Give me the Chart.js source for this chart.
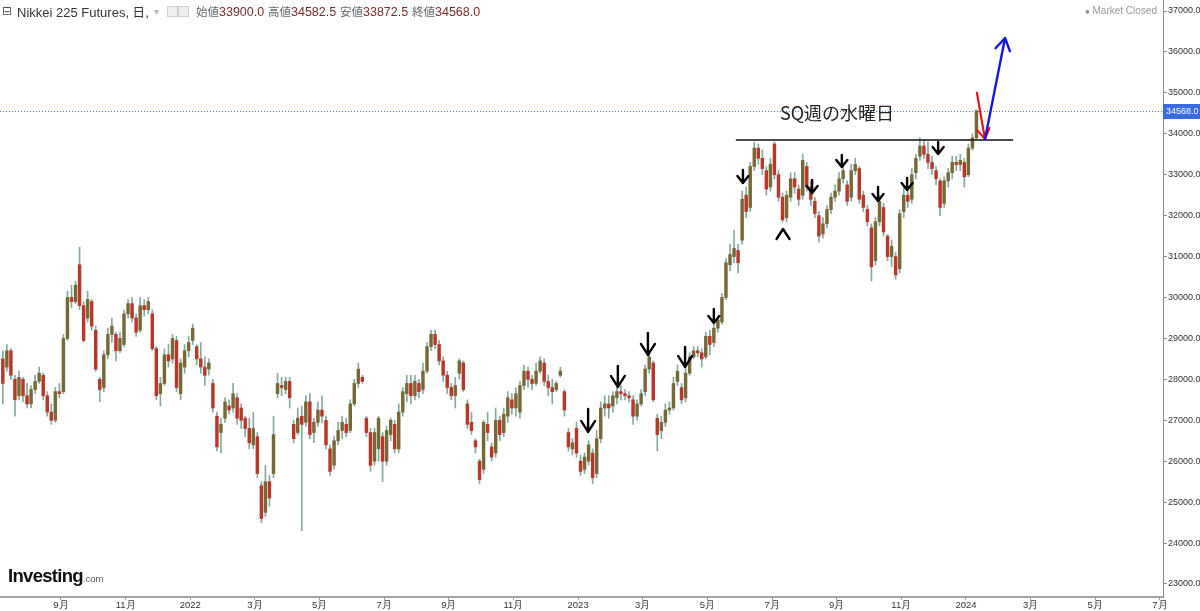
<!DOCTYPE html>
<html><head><meta charset="utf-8">
<script src="https://cdn.jsdelivr.net/npm/chart.js@4.4.1/dist/chart.umd.min.js"></script>
<style>
html,body{margin:0;padding:0;background:#fff;}
#wrap{position:relative;width:1200px;height:611px;overflow:hidden;background:#fff;}
#c{position:absolute;left:0;top:0;}
.t{position:absolute;white-space:nowrap;font-family:"Liberation Sans",Arial,sans-serif;}
.hd{top:4px;font-size:13px;color:#333;line-height:15px;}
.lb{color:#666;font-family:"Noto Sans CJK JP",sans-serif;font-size:11.5px;}
.v{color:#7a2c2c;font-size:12.5px;}
.ic{position:absolute;top:6px;width:9px;height:9px;border:1px solid #cfcfcf;background:#eee;}
</style></head>
<body><div id="wrap">
<canvas id="c" width="1200" height="611"></canvas>
<div class="t hd" style="left:2px;font-family:'DejaVu Sans';font-size:12px;color:#555;">⊟</div>
<div class="t hd" style="left:17px;">Nikkei 225 Futures, <span style="font-family:'Noto Sans CJK JP';font-size:12.5px;">日</span>,</div>
<div class="t hd" style="left:154px;color:#bbb;font-size:10px;">▾</div>
<div class="ic" style="left:167px;"></div>
<div class="ic" style="left:178px;"></div>
<div class="t hd" style="left:196px;"><span class="lb">始値</span><span class="v">33900.0</span></div>
<div class="t hd" style="left:268px;"><span class="lb">高値</span><span class="v">34582.5</span></div>
<div class="t hd" style="left:340px;"><span class="lb">安値</span><span class="v">33872.5</span></div>
<div class="t hd" style="left:412px;"><span class="lb">終値</span><span class="v">34568.0</span></div>
<div class="t" style="right:43px;top:5px;font-size:10px;color:#999;line-height:12px;"><span style="font-size:8px;color:#888;">●</span> Market Closed</div>
<div class="t" style="left:8px;top:566px;line-height:20px;"><span style="font-weight:bold;font-size:18.5px;color:#111;letter-spacing:-0.7px;">Investing</span><span style="font-size:9.5px;color:#555;">.com</span></div>
</div>
<script>
// ---- data (Nikkei 225 futures, daily candles sampled, yen) ----
const openP = [28500,28300,28700,28000,27600,28000,27600,27400,27750,27950,28100,27600,27200,27000,27700,27700,29000,30000,29900,30800,
29800,29500,29900,29200,28000,27800,28600,29100,29100,28700,28850,29600,29850,29500,29200,29800,29700,29600,28750,27650,
27900,28600,28500,28950,27650,28300,28700,28950,28800,28500,28300,28250,27900,27100,26700,27050,27350,27300,27550,27300,
27050,26800,26400,26600,25400,24750,25500,25700,27650,27850,27750,27950,26900,26700,27100,26950,27450,26700,26950,27250,
27000,26300,25900,26500,26750,26900,26750,27400,27900,28050,27050,26700,26000,26300,26600,26000,26650,26900,26300,27200,
27650,27900,27600,27900,27750,28200,28800,29100,28850,28450,28100,27800,27600,28150,28400,27400,26950,26500,26000,25800,
26900,26350,26200,27000,26700,27100,27500,27300,27200,27850,28200,28000,27900,28200,28400,27950,27800,27750,28100,27700,
26700,26300,26800,26000,25800,26000,26200,25700,26550,27300,27400,27350,27550,27700,27650,27600,27500,27100,27400,27700,
28250,28400,27050,26750,26950,27250,27300,27950,27800,27550,28150,28550,28700,28650,28550,29050,28900,29250,29400,30000,
30800,31000,31150,31400,32500,32200,33200,33650,33400,33100,32700,33750,33000,32450,31950,32450,32900,32650,32500,33200,
32700,32350,32000,31550,31800,32150,32450,32600,32900,32750,32450,33100,33150,32500,32150,31700,30900,31850,32200,31500,
31000,31000,30700,32100,32500,32400,33050,33450,33700,33500,33300,33100,32850,32300,32850,33050,33300,33250,33300,33000,
33650,33900];
const highP = [28700,28850,28750,28100,28200,28050,27900,27850,28100,28300,28150,27700,27400,27800,27900,29100,30150,30300,30400,31230,
29900,30150,29950,29300,28050,28700,29250,29500,29150,29150,29700,29950,30000,29600,30000,29950,30000,29700,28800,28050,
28750,28850,29100,29050,28500,28850,29050,29350,28850,28900,28550,28500,28000,27200,27050,27550,27500,27900,27650,27400,
27100,27050,27200,26700,25500,25900,25650,27100,28150,28050,28050,28050,27000,27300,27350,27600,27650,27050,27450,27600,
27100,26400,26600,26950,27100,27050,27500,28000,28400,28100,27100,26800,26800,27100,26700,26850,27050,27000,27400,27800,
28100,28100,28100,28000,28400,28900,29200,29200,28950,28550,28200,27900,28050,28500,28450,27500,27200,26550,26050,27000,
27200,26450,27300,27100,27300,27700,27650,27800,27950,28350,28300,28100,28400,28550,28500,28100,28000,27950,28300,27750,
26800,26550,26950,26150,26200,26500,26300,26750,27450,27600,27600,27700,27850,27850,27750,27700,27600,27500,27750,28350,
28650,28450,27150,27100,27400,27450,28050,28350,27900,28300,28650,28800,28800,28750,29150,29200,29350,29550,30100,30950,
31300,31650,31300,32600,32700,33300,33800,33750,33600,33200,33400,33800,33100,32550,32600,33050,33050,32750,33500,33300,
32850,32450,32100,31950,32250,32550,32750,33050,33200,32850,33250,33400,33200,32600,32250,31800,31950,32500,32300,31550,
31400,31100,32150,32700,32700,33150,33500,33900,33850,33800,33450,33200,32900,32950,33150,33450,33450,33500,33400,33750,
34000,34582.5];
const lowP = [27400,28200,28000,27100,27500,27450,27300,27300,27650,27900,27500,27100,26900,26950,27550,27650,28950,29750,29850,29700,
28900,29400,29200,28200,27450,27700,28500,28900,28450,28650,28800,29500,29400,29050,29150,29550,29600,28700,27500,27350,
27850,28300,28400,27700,27500,28150,28550,28850,28350,28150,27850,28100,27200,26250,26200,26950,27150,27200,26900,26800,
26600,26300,26300,25600,24500,24650,24900,25600,27550,27600,27650,27300,26450,26650,24300,26850,26550,26450,26850,26950,
26300,25650,25800,26400,26550,26600,26700,27350,27800,27900,26600,25750,25900,26000,25500,25900,26500,26200,26200,27100,
27450,27400,27500,27550,27650,28150,28700,28750,28350,27950,27650,27500,27300,28000,27700,26800,26650,26200,25450,25700,
26500,26000,26100,26500,26600,26950,27150,27100,27050,27750,27800,27750,27850,28150,27850,27600,27400,27700,28050,27100,
26250,26150,26100,25650,25700,25900,25450,25600,26450,27100,27050,27200,27400,27500,27500,27450,26900,27000,27350,27600,
28150,27450,26250,26550,26850,27150,27250,27850,27400,27450,28100,28500,28550,28300,28500,28600,28800,29150,29350,29950,
30650,30850,30600,31300,31950,32100,33100,33250,33000,32500,32600,32900,32350,31850,31850,32350,32550,32250,32400,32600,
32250,31950,31350,31450,31700,32050,32350,32500,32800,32250,32350,33000,32300,32100,31750,30400,30800,31750,31500,30900,
30750,30450,30600,31950,32200,32300,32900,33350,33400,33150,33000,32750,32000,32200,32700,32900,33100,33100,32700,32950,
33600,33872.5];
const closeP = [27900,28700,28100,27500,28050,27600,27400,27750,27950,28150,27600,27200,27000,27700,27650,29000,30000,29900,30300,29800,
28950,29950,29300,28250,27750,28600,29100,29300,28700,29000,29600,29850,29500,29150,29800,29700,29900,28750,27600,27900,
28600,28450,29000,27800,28400,28700,28900,29250,28500,28300,28100,28400,27300,26350,26900,27450,27250,27650,27050,27000,
26800,26450,26800,25700,24600,25500,25100,26650,27900,27800,27950,27550,26550,27050,26900,27450,26650,26950,27250,27100,
26400,25750,26500,26750,26950,26700,27400,27900,28250,27950,26700,25900,26700,27050,26000,26750,27000,26300,27200,27700,
27900,27600,27950,27700,28200,28800,29100,28850,28450,28100,27800,27600,27850,28450,27750,26900,26750,26350,25550,26950,
26700,26100,27000,26650,27150,27550,27300,27650,27850,28200,28000,27900,28200,28450,27950,27800,27700,27900,28200,27250,
26350,26450,26200,25750,26100,26400,25600,26550,27300,27400,27300,27600,27700,27650,27600,27550,27100,27400,27650,28250,
28550,27500,26650,26950,27250,27300,27900,28200,27500,28150,28550,28700,28650,28500,29050,28850,29250,29450,30000,30850,
31050,31200,30850,32400,32100,33200,33650,33400,33150,32650,33250,33000,32450,31900,32500,32900,32700,32400,33350,32700,
32400,32050,31500,31800,32150,32450,32600,32900,33100,32350,33100,33250,32400,32200,31850,30750,31850,32350,31600,31000,
31250,30550,32050,32500,32350,33000,33400,33700,33500,33300,33150,32900,32200,32850,33050,33300,33250,33350,32950,33650,
33900,34568];
const lastClose = 34568.0;
// x axis: months counted from Sep 2021 (0) ; tick labels
const xTickMonths = [0,2,4,6,8,10,12,14,16,18,20,22,24,26,28,30,32,34];
const xTickLabels = ['9月','11月','2022','3月','5月','7月','9月','11月','2023','3月','5月','7月','9月','11月','2024','3月','5月','7月'];
const yTickValues = [23000,24000,25000,26000,27000,28000,29000,30000,31000,32000,33000,34000,35000,36000,37000];
// bars are sampled every 1/8 month starting this month offset
const firstBarMonth = -1.8, barStepMonths = 0.125;
// annotations (month offset, price)
const downArrowMonth = [16.31,17.23,18.16,19.31,20.20,21.10,23.24,24.16,25.28,26.18,27.14];
const downArrowPrice = [26715,27814,28596,28303,29378,32798,32554,33189,32358,32627,33507];
const upArrowMonth = [22.34];
const upArrowPrice = [31674];
const resistPrice = 33850, resistFrom = 20.88, resistTo = 29.46;
const noteText = 'SQ週の水曜日', noteMonth = 24.01, notePrice = 34510;
const redArrow = {from:[28.34,35000], to:[28.59,33870]};
const blueArrow = {from:[28.59,33870], to:[29.21,36340]};

// ---- build datasets ----
const wickData = [], bodyData = [], bodyColors = [];
for (let i = 0; i < closeP.length; i++) {
  const m = firstBarMonth + barStepMonths * i;
  wickData.push({x: m, y: [lowP[i], highP[i]]});
  bodyData.push({x: m, y: [openP[i], closeP[i]]});
  bodyColors.push(closeP[i] >= openP[i] ? '#766937' : '#b7372b');
}

const arrowLens = [23,21,22,20,14,13,13,12,14,12,12];

const annot = {
  id: 'annot',
  afterDatasetsDraw(chart) {
    const {ctx, chartArea: ca, scales: {x, y}} = chart;
    ctx.save();
    // last price dotted line
    const ly = y.getPixelForValue(lastClose);
    ctx.strokeStyle = '#4e78d6'; ctx.lineWidth = 1; ctx.setLineDash([1, 2]);
    ctx.beginPath(); ctx.moveTo(ca.left, Math.round(ly) + 0.5); ctx.lineTo(ca.right, Math.round(ly) + 0.5); ctx.stroke();
    ctx.setLineDash([]);
    // resistance line
    const ry = y.getPixelForValue(resistPrice);
    ctx.strokeStyle = '#111'; ctx.lineWidth = 1.6;
    ctx.beginPath(); ctx.moveTo(x.getPixelForValue(resistFrom), ry); ctx.lineTo(x.getPixelForValue(resistTo), ry); ctx.stroke();
    // note text
    ctx.fillStyle = '#222'; ctx.font = '18px "Noto Sans CJK JP", sans-serif';
    ctx.textAlign = 'center'; ctx.textBaseline = 'middle';
    ctx.fillText(noteText, x.getPixelForValue(noteMonth), y.getPixelForValue(notePrice));
    // down arrows
    ctx.strokeStyle = '#000'; ctx.lineWidth = 2.4; ctx.lineCap = 'round'; ctx.lineJoin = 'round';
    downArrowMonth.forEach((m, k) => {
      const tx = x.getPixelForValue(m), ty = y.getPixelForValue(downArrowPrice[k]);
      const len = arrowLens[k], big = len > 18;
      const hw = big ? 7 : 5.5, hh = big ? 11 : 7;
      ctx.beginPath();
      ctx.moveTo(tx, ty - len); ctx.lineTo(tx, ty);
      ctx.moveTo(tx - hw, ty - hh); ctx.lineTo(tx, ty); ctx.lineTo(tx + hw, ty - hh);
      ctx.stroke();
    });
    upArrowMonth.forEach((m, k) => {
      const tx = x.getPixelForValue(m), ty = y.getPixelForValue(upArrowPrice[k]);
      ctx.beginPath();
      ctx.moveTo(tx - 6.5, ty + 10); ctx.lineTo(tx, ty); ctx.lineTo(tx + 6.5, ty + 10);
      ctx.stroke();
    });
    // colored arrows
    const drawArrow = (a, color, w, head) => {
      const x1 = x.getPixelForValue(a.from[0]), y1 = y.getPixelForValue(a.from[1]);
      const x2 = x.getPixelForValue(a.to[0]), y2 = y.getPixelForValue(a.to[1]);
      const ang = Math.atan2(y2 - y1, x2 - x1);
      ctx.strokeStyle = color; ctx.lineWidth = w;
      ctx.beginPath(); ctx.moveTo(x1, y1); ctx.lineTo(x2, y2);
      ctx.moveTo(x2 - head * Math.cos(ang - 0.55), y2 - head * Math.sin(ang - 0.55));
      ctx.lineTo(x2, y2);
      ctx.lineTo(x2 - head * Math.cos(ang + 0.55), y2 - head * Math.sin(ang + 0.55));
      ctx.stroke();
    };
    drawArrow(redArrow, '#e3141b', 2.2, 12);
    drawArrow(blueArrow, '#1414dc', 2.4, 14);
    ctx.restore();
  },
  afterDraw(chart) {
    const {ctx, chartArea: ca, scales: {y}} = chart;
    const ly = Math.round(y.getPixelForValue(lastClose));
    ctx.save();
    ctx.fillStyle = '#3b6be3';
    ctx.fillRect(ca.right, ly - 7, chart.width - ca.right, 15);
    ctx.fillStyle = '#fff'; ctx.font = '9px "Liberation Sans", Arial, sans-serif';
    ctx.textAlign = 'left'; ctx.textBaseline = 'middle';
    ctx.fillText(lastClose.toFixed(1), ca.right + 3, ly + 1);
    ctx.restore();
  }
};

const tickFont = {family: '"Liberation Sans", Arial, sans-serif', size: 9};
const xFont = {family: '"Liberation Sans", Arial, sans-serif', size: 9.5};
new Chart(document.getElementById('c'), {
  type: 'bar',
  data: {datasets: [
    {label: 'body', data: bodyData, backgroundColor: bodyColors, borderWidth: 0, barThickness: 2.8, minBarLength: 1, grouped: false, order: 1},
    {label: 'wick', data: wickData, backgroundColor: '#86a89b', borderWidth: 0, barThickness: 1, grouped: false, order: 2}
  ]},
  options: {
    responsive: false, animation: false,
    layout: {padding: 0},
    plugins: {legend: {display: false}, tooltip: {enabled: false}},
    scales: {
      x: {
        type: 'linear', min: -1.887, max: 34.097, offset: false,
        grid: {display: true, offset: false, drawOnChartArea: false, drawTicks: true, tickLength: 3, color: '#999'},
        border: {display: true, color: '#a3a3a3', width: 2},
        afterBuildTicks: a => { a.ticks = xTickMonths.map(v => ({value: v})); },
        afterFit: a => { a.height = 14; a.paddingLeft = 0; a.paddingRight = 0; },
        ticks: {autoSkip: false, maxRotation: 0, padding: 0, color: '#333', font: xFont,
          callback: (v, i) => xTickLabels[i]}
      },
      y: {
        type: 'linear', position: 'right', min: 22682, max: 37269,
        grid: {display: true, drawOnChartArea: false, drawTicks: true, tickLength: 4, color: '#888'},
        border: {display: true, color: '#888', width: 1},
        afterBuildTicks: a => { a.ticks = yTickValues.map(v => ({value: v})); },
        afterFit: a => { a.width = 37; a.paddingTop = 0; a.paddingBottom = 0; },
        ticks: {padding: 1, color: '#333', font: tickFont, callback: v => Number(v).toFixed(1)}
      }
    }
  },
  plugins: [annot]
});
</script>
</body></html>
